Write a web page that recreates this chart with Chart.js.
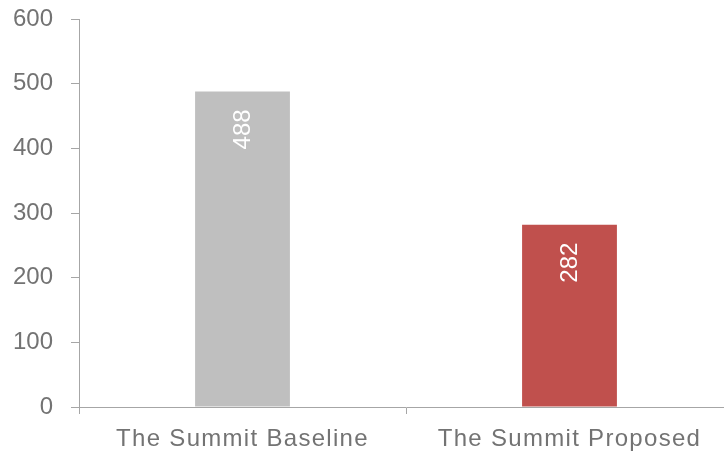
<!DOCTYPE html>
<html>
<head>
<meta charset="utf-8">
<script src="https://cdn.jsdelivr.net/npm/chart.js@4"></script>
<style>
html,body{margin:0;padding:0;background:#fff;overflow:hidden;}
#wrap{width:724px;height:453px;overflow:hidden;}
canvas{display:block;}
</style>
</head>
<body>
<div id="wrap"><canvas id="c" width="735" height="453" style="width:735px;height:453px"></canvas></div>
<script>
const categories = ["The Summit Baseline", "The Summit Proposed"];
const values = [488, 282];
const barColors = ["#BFBFBF", "#C0504D"];
const yTicks = [0, 100, 200, 300, 400, 500, 600];

const labelPlugin = {
  id: 'valueLabels',
  afterLayout(chart) {
    const xs = chart.scales.x;
    if (!xs._wrapped) {
      const orig = xs.drawLabels;
      xs.drawLabels = function (area) {
        const ctx = this.ctx;
        ctx.save();
        ctx.letterSpacing = '1.3px';
        orig.call(this, area);
        ctx.restore();
      };
      xs._wrapped = true;
    }
  },
  afterDatasetsDraw(chart) {
    const ctx = chart.ctx;
    const meta = chart.getDatasetMeta(0);
    ctx.save();
    ctx.fillStyle = '#FFFFFF';
    ctx.font = '24px "Liberation Sans", Arial, sans-serif';
    meta.data.forEach((bar, i) => {
      ctx.save();
      ctx.translate(bar.x, bar.y + 18);
      ctx.rotate(-Math.PI / 2);
      ctx.textAlign = 'right';
      ctx.textBaseline = 'middle';
      ctx.fillText(String(values[i]), 0, 1);
      ctx.restore();
    });
    ctx.restore();
  }
};

new Chart(document.getElementById('c'), {
  type: 'bar',
  data: {
    labels: categories,
    datasets: [{
      data: values,
      backgroundColor: barColors,
      borderWidth: 0,
      categoryPercentage: 1,
      barPercentage: 0.29
    }]
  },
  options: {
    responsive: false,
    animation: false,
    devicePixelRatio: 1,
    layout: { padding: { left: 0, right: 2, top: 19, bottom: 0 } },
    plugins: { legend: { display: false }, tooltip: { enabled: false } },
    scales: {
      x: {
        afterFit(axis) { axis.height = 46; axis.paddingLeft = 0; axis.paddingRight = 0; },
        grid: { drawOnChartArea: false, drawTicks: true, tickLength: 7, color: '#A6A6A6', offset: true },
        border: { display: true, color: '#A6A6A6', width: 1 },
        ticks: { color: '#737373', padding: 11, font: { family: '"Liberation Sans", Arial, sans-serif', size: 24 }, maxRotation: 0 }
      },
      y: {
        min: 0, max: 600,
        afterBuildTicks(axis) { axis.ticks = yTicks.map(v => ({ value: v })); },
        afterFit(axis) { axis.width = 79; axis.paddingTop = 0; axis.paddingBottom = 0; },
        grid: { drawOnChartArea: false, drawTicks: true, tickLength: 8, color: '#A6A6A6' },
        border: { display: true, color: '#A6A6A6', width: 1 },
        ticks: { color: '#737373', padding: 18, font: { family: '"Liberation Sans", Arial, sans-serif', size: 24 } }
      }
    }
  },
  plugins: [labelPlugin]
});
</script>
</body>
</html>
